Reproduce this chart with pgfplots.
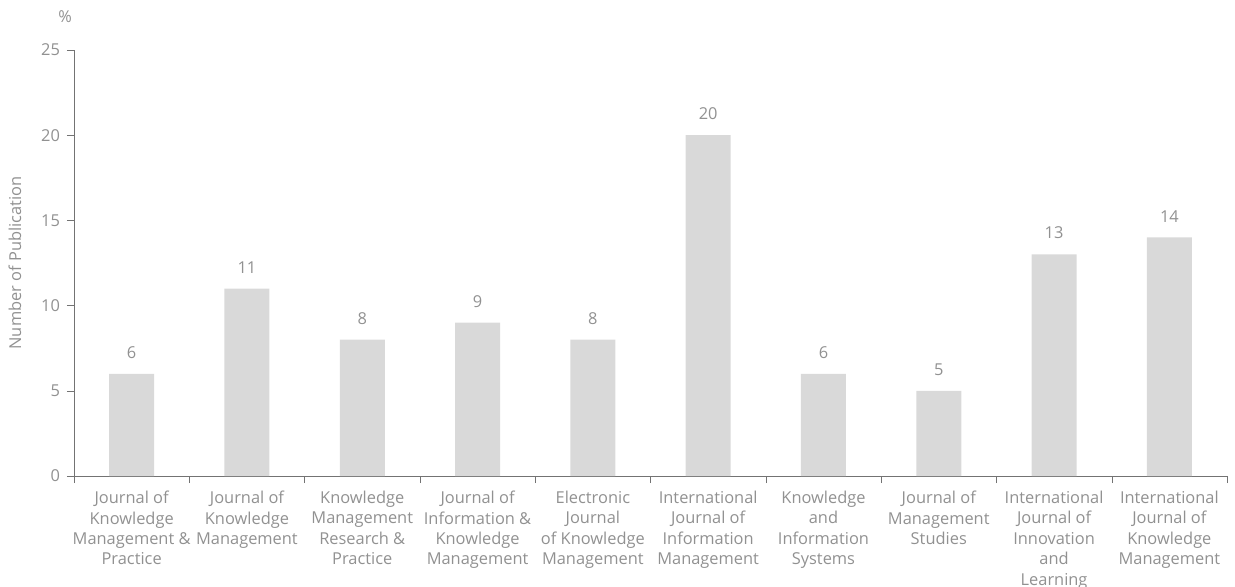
\documentclass[border=0pt]{standalone}
\usepackage{pgfplots}
\pgfplotsset{compat=1.18}
\usepackage{fontspec}
\setmainfont{Open Sans}
\definecolor{textgray}{RGB}{145,145,145}
\definecolor{axisgray}{RGB}{115,115,115}
\definecolor{bargray}{RGB}{217,217,217}
\newcommand{\lbl}{\fontsize{8.2}{10.2}\selectfont}
\begin{document}
\begin{tikzpicture}
\begin{axis}[
	width=576.5pt,
	height=213pt,
	scale only axis,
	at={(0pt,0pt)},
	anchor=south west,
	ybar,
	bar width=22.5pt,
	xmin=-0.5, xmax=9.5,
	ymin=0, ymax=25,
	ytick={0,5,...,25},
	xtick={-0.5,0.5,...,9.5},
	x tick label as interval,
	xticklabels={
		{Journal of\\Knowledge\\Management \&\\Practice},
		{Journal of\\Knowledge\\Management},
		{Knowledge\\Management\\Research \&\\Practice},
		{Journal of\\Information \&\\Knowledge\\Management},
		{Electronic\\Journal\\of Knowledge\\Management},
		{International\\Journal of\\Information\\Management},
		{Knowledge\\and\\Information\\Systems},
		{Journal of\\Management\\Studies},
		{International\\Journal of\\Innovation\\and\\Learning},
		{International\\Journal of\\Knowledge\\Management}},
	axis x line*=bottom,
	axis y line*=left,
	axis line style={draw=axisgray},
	tick style={draw=axisgray},
	tick align=outside,
	major tick length=3.5pt,
	/pgf/number format/assume math mode=true,
	tick label style={font=\lbl, text=textgray},
	xticklabel style={align=center, yshift=-0.5pt},
	ylabel={Number of Publication},
	ylabel style={font=\lbl, text=textgray, at={(axis description cs:-0.0512,0.5)}, anchor=center},
	nodes near coords,
	nodes near coords style={font=\lbl, text=textgray, inner sep=0pt, yshift=7.5pt},
	clip=false,
	]
\addplot[fill=bargray, draw=none] coordinates {
(0,6) (1,11) (2,8) (3,9) (4,8) (5,20) (6,6) (7,5) (8,13) (9,14)
};
\node[font=\lbl, text=textgray] at (axis description cs:-0.0078,1.0775) {\%};
\end{axis}
\pgfresetboundingbox
\path (-37pt,-55pt) rectangle (580.5pt,238pt);
\end{tikzpicture}
\end{document}
